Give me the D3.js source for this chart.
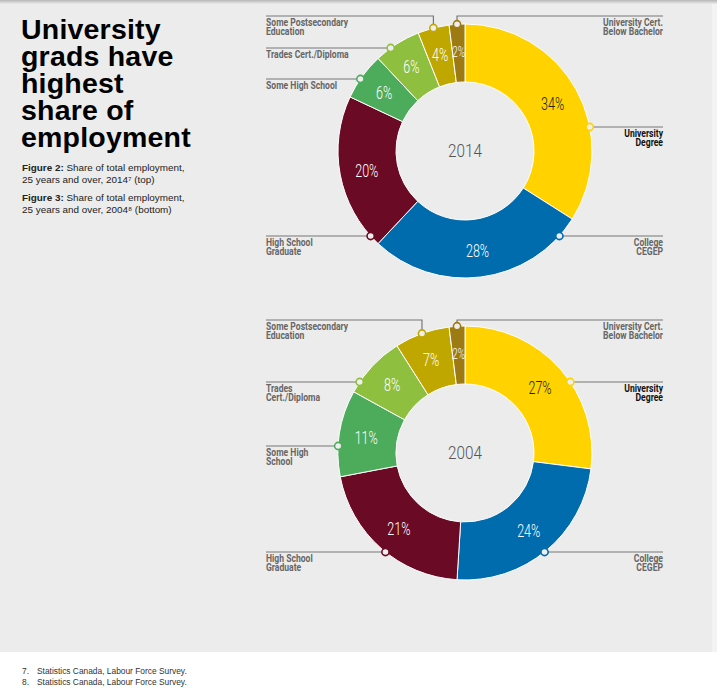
<!DOCTYPE html>
<html lang="en">
<head>
<meta charset="UTF-8">
<title>University grads have highest share of employment</title>
<script src="https://cdnjs.cloudflare.com/ajax/libs/d3/7.8.5/d3.min.js"></script>
<style>
    body {
        margin: 0;
        background: #fff;
        font-family: 'Liberation Sans', Arial, sans-serif;
    }
    svg { display: block; }
    .title {
        font-family: 'Liberation Sans', Arial, sans-serif;
        font-weight: bold;
        font-size: 28.5px;
        letter-spacing: 0.2px;
        fill: #000;
    }
    .caption { font-size: 9.9px; fill: #222; }
    .caption .b { font-weight: bold; }
    .foot { font-size: 8.4px; fill: #333; }
    .cat {
        font-family: Roboto, 'DejaVu Sans Condensed', sans-serif;
        font-weight: bold;
        font-size: 10px;
        fill: #666;
    }
    .cat.main { fill: #111; }
    .pct {
        font-family: Roboto, sans-serif;
        font-weight: 300;
    }
    .year {
        font-family: Roboto, sans-serif;
        font-weight: 300;
        font-size: 18px;
        fill: #555;
    }
</style>
</head>
<body>
<div id="chart"></div>
<script>
// data, clockwise from 12 o'clock
const categories = ["University Degree", "College CEGEP", "High School Graduate", "Some High School",
                    "Trades Cert./Diploma", "Some Postsecondary Education", "University Cert. Below Bachelor"];
const years = ["2014", "2004"];
const values2014 = [34, 28, 20, 6, 6, 4, 2];
const values2004 = [27, 24, 21, 11, 8, 7, 2];
const labels2014 = [["University", "Degree"], ["College", "CEGEP"], ["High School", "Graduate"], ["Some High School"],
                    ["Trades Cert./Diploma"], ["Some Postsecondary", "Education"], ["University Cert.", "Below Bachelor"]];
const labels2004 = [["University", "Degree"], ["College", "CEGEP"], ["High School", "Graduate"], ["Some High", "School"],
                    ["Trades", "Cert./Diploma"], ["Some Postsecondary", "Education"], ["University Cert.", "Below Bachelor"]];

const colors = ["#ffd200", "#006bad", "#6b0a25", "#4cac5c", "#8ebf3f", "#c0a700", "#9e7b12"];

// layout: leader y level, side, elbow (line above, dropping to the slice middle)
const charts = [
    { year: years[0], values: values2014, labels: labels2014, cx: 465, cy: 151,
      leaders: [ {y: 127, side: "r"}, {y: 236, side: "r"}, {y: 236, side: "l"}, {y: 79, side: "l"},
                 {y: 48, side: "l"}, {y: 16, side: "l", elbow: true}, {y: 16, side: "r", elbow: true} ] },
    { year: years[1], values: values2004, labels: labels2004, cx: 465, cy: 453,
      leaders: [ {y: 382, side: "r"}, {y: 552, side: "r"}, {y: 552, side: "l"}, {y: 446, side: "l"},
                 {y: 382, side: "l"}, {y: 320, side: "l", elbow: true}, {y: 320, side: "r", elbow: true} ] }
];

const W = 722, H = 697;
const rIn = 69, rOut = 127;
const leftX = 266, rightX = 663;
const narrow = 0.86;    // condensed look for the category labels
const pctNarrow = 0.66; // and for the percentages

const svg = d3.select("#chart").append("svg")
    .attr("width", W).attr("height", H);

// panel
const defs = svg.append("defs");
const grad = defs.append("linearGradient").attr("id", "topShade")
    .attr("x1", 0).attr("x2", 0).attr("y1", 0).attr("y2", 1);
grad.append("stop").attr("offset", "0%").attr("stop-color", "#b5b5b5");
grad.append("stop").attr("offset", "100%").attr("stop-color", "#ececec");
svg.append("rect").attr("x", 0).attr("y", 0).attr("width", 717).attr("height", 652).attr("fill", "#f3f3f3");
svg.append("rect").attr("x", 0).attr("y", 0).attr("width", 712).attr("height", 652).attr("fill", "#ececec");
svg.append("rect").attr("x", 0).attr("y", 0).attr("width", 717).attr("height", 4).attr("fill", "url(#topShade)");

// title
const titleLines = ["University", "grads have", "highest", "share of", "employment"];
svg.append("text").attr("class", "title")
    .selectAll("tspan").data(titleLines).join("tspan")
    .attr("x", 21).attr("y", (d, i) => 39 + i * 27)
    .text(d => d);

const captions = [
    { b: "Figure 2:", t: " Share of total employment,", t2: "25 years and over, 2014\u2077 (top)" },
    { b: "Figure 3:", t: " Share of total employment,", t2: "25 years and over, 2004\u2078 (bottom)" }
];
captions.forEach((c, i) => {
    const y0 = 171 + i * 30;
    const t = svg.append("text").attr("class", "caption").attr("x", 22).attr("y", y0);
    t.append("tspan").attr("class", "b").text(c.b);
    t.append("tspan").text(c.t);
    svg.append("text").attr("class", "caption").attr("x", 22).attr("y", y0 + 12).text(c.t2);
});

// footnotes
["Statistics Canada, Labour Force Survey.", "Statistics Canada, Labour Force Survey."].forEach((s, i) => {
    svg.append("text").attr("class", "foot").attr("x", 22).attr("y", 674 + i * 11).text((7 + i) + ".");
    svg.append("text").attr("class", "foot").attr("x", 37).attr("y", 674 + i * 11).text(s);
});

const pie = d3.pie().sort(null).value(d => d);
const arc = d3.arc().innerRadius(rIn).outerRadius(rOut);
const midArc = d3.arc().innerRadius(100).outerRadius(100);

charts.forEach(ch => {
    const g = svg.append("g").attr("transform", `translate(${ch.cx},${ch.cy})`);
    const arcs = pie(ch.values);

    g.selectAll("path").data(arcs).join("path")
        .attr("d", arc)
        .attr("fill", (d, i) => colors[i])
        .attr("stroke", "#fff")
        .attr("stroke-width", 1);

    g.selectAll("text.pct").data(arcs).join("text")
        .attr("class", "pct")
        .attr("transform", d => `translate(${midArc.centroid(d)}) scale(${pctNarrow},1)`)
        .attr("text-anchor", "middle")
        .attr("dy", "0.36em")
        .attr("font-size", d => d.data < 3 ? 15 : 19)
        .attr("fill", (d, i) => i === 0 ? "#222" : "#fff")
        .text(d => d.data + "%");

    g.append("text").attr("class", "year")
        .attr("text-anchor", "middle").attr("dy", "0.36em")
        .attr("transform", "scale(0.85,1)")
        .text(ch.year);

    // leaders
    arcs.forEach((a, i) => {
        const L = ch.leaders[i];
        let px, py;
        if (L.elbow) {
            const m = (a.startAngle + a.endAngle) / 2;
            px = ch.cx + rOut * Math.sin(m);
            py = ch.cy - rOut * Math.cos(m);
        } else {
            const dy = L.y - ch.cy;
            const dx = Math.sqrt(rOut * rOut - dy * dy);
            px = ch.cx + (L.side === "r" ? dx : -dx);
            py = L.y;
        }
        const endX = L.side === "r" ? rightX : leftX;
        const pts = L.elbow ? [[endX, L.y], [px, L.y], [px, py]] : [[endX, L.y], [px, py]];
        svg.append("path")
            .attr("d", d3.line()(pts))
            .attr("fill", "none")
            .attr("stroke", "#777")
            .attr("stroke-width", 1.2);
        svg.append("circle")
            .attr("cx", px).attr("cy", py).attr("r", 3.6)
            .attr("fill", "#eee")
            .attr("stroke", colors[i])
            .attr("stroke-width", 1.6);

        svg.append("text")
            .attr("class", i === 0 ? "cat main" : "cat")
            .attr("text-anchor", L.side === "r" ? "end" : "start")
            .attr("transform", `translate(${endX},0) scale(${narrow},1)`)
            .selectAll("tspan").data(ch.labels[i]).join("tspan")
            .attr("x", 0)
            .attr("y", (d, k) => L.y + 10 + k * 9.3)
            .text(d => d);
    });
});
</script>
</body>
</html>
